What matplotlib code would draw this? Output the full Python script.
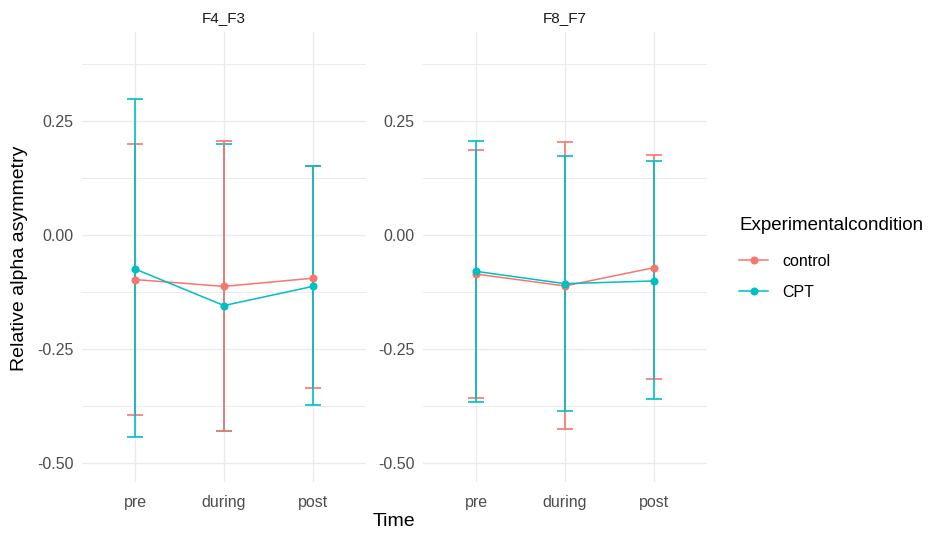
import matplotlib
matplotlib.use("Agg")
import matplotlib.pyplot as plt
from matplotlib.lines import Line2D

plt.rcParams["font.family"] = ["Liberation Sans", "DejaVu Sans"]

# ---------------------------------------------------------------------------
# Data
# ---------------------------------------------------------------------------
TIMES = ["pre", "during", "post"]
PANELS = ["F4_F3", "F8_F7"]
CONDITIONS = ["control", "CPT"]

# F4_F3
F4_CONTROL_MEAN = [-0.098, -0.113, -0.095]
F4_CONTROL_LOW  = [-0.396, -0.431, -0.336]
F4_CONTROL_HIGH = [0.200, 0.207, 0.151]
F4_CPT_MEAN     = [-0.075, -0.155, -0.113]
F4_CPT_LOW      = [-0.444, -0.431, -0.374]
F4_CPT_HIGH     = [0.298, 0.200, 0.151]

# F8_F7
F8_CONTROL_MEAN = [-0.086, -0.112, -0.072]
F8_CONTROL_LOW  = [-0.358, -0.425, -0.316]
F8_CONTROL_HIGH = [0.186, 0.203, 0.175]
F8_CPT_MEAN     = [-0.080, -0.107, -0.101]
F8_CPT_LOW      = [-0.366, -0.387, -0.361]
F8_CPT_HIGH     = [0.206, 0.173, 0.162]

DATA = {
    "F4_F3": {
        "control": (F4_CONTROL_MEAN, F4_CONTROL_LOW, F4_CONTROL_HIGH),
        "CPT": (F4_CPT_MEAN, F4_CPT_LOW, F4_CPT_HIGH),
    },
    "F8_F7": {
        "control": (F8_CONTROL_MEAN, F8_CONTROL_LOW, F8_CONTROL_HIGH),
        "CPT": (F8_CPT_MEAN, F8_CPT_LOW, F8_CPT_HIGH),
    },
}

COLORS = {"control": "#F8766D", "CPT": "#00BFC4"}
# in the reference the control bar sits above CPT's at F4_F3 / during
CONTROL_ON_TOP = {("F4_F3", 1)}

YTICKS = [-0.50, -0.25, 0.00, 0.25]
YMINOR = [-0.375, -0.125, 0.125, 0.375]
# ---------------------------------------------------------------------------

W, H = 933, 533
fig = plt.figure(figsize=(W / 100, H / 100), dpi=100)

panel_left = [82, 423]
panel_w = 284
panel_top, panel_bot = 32, 482

grid_col = "#EBEBEB"
text_col = "#4D4D4D"

for i, name in enumerate(PANELS):
    ax = fig.add_axes([panel_left[i] / W, (H - panel_bot) / H,
                       panel_w / W, (panel_bot - panel_top) / H])
    x = list(range(1, len(TIMES) + 1))

    for cond in CONDITIONS:
        mean, low, high = DATA[name][cond]
        col = COLORS[cond]
        base_z = 3 if cond == "control" else 4
        for j in range(len(x)):
            z = base_z
            if (name, j) in CONTROL_ON_TOP:
                z = 5 if cond == "control" else 3
            ax.errorbar([x[j]], [mean[j]],
                        yerr=[[mean[j] - low[j]], [high[j] - mean[j]]],
                        fmt="none", ecolor=col, elinewidth=1.2,
                        capsize=6, capthick=1.2, zorder=z)
        ax.plot(x, mean, color=col, linewidth=1.1, zorder=6)
        ax.plot(x, mean, "o", color=col, markersize=4.8, zorder=7)

    ax.set_xlim(0.4, 3.6)
    ax.set_ylim(-0.542, 0.445)
    ax.set_xticks(x)
    ax.set_xticklabels(TIMES)
    ax.set_yticks(YTICKS)
    ax.set_yticklabels([f"{v:.2f}" for v in YTICKS])
    ax.set_yticks(YMINOR, minor=True)

    ax.grid(True, which="major", color=grid_col, linewidth=1.0, zorder=0)
    ax.grid(True, which="minor", axis="y", color=grid_col, linewidth=0.7, zorder=0)
    ax.set_axisbelow(True)
    for s in ax.spines.values():
        s.set_visible(False)
    ax.tick_params(which="both", length=0, labelsize=11.5, colors=text_col, pad=6)
    ax.tick_params(axis="x", pad=9)

    ax.set_title(name, fontsize=11, color="#1A1A1A", pad=7)

fig.text(20 / W, 1 - 258 / H, "Relative alpha asymmetry", rotation=90,
         ha="center", va="center", fontsize=14, color="black")
fig.text(394 / W, 1 - 522 / H, "Time", ha="center", va="center",
         fontsize=14, color="black")

handles = [Line2D([0], [0], color=COLORS[c], linewidth=1.1, marker="o",
                  markersize=4.8) for c in CONDITIONS]
leg = fig.legend(handles, CONDITIONS, title="Experimentalcondition",
                 loc="upper left", bbox_to_anchor=(733 / W, 1 - 211 / H),
                 frameon=False, fontsize=11.5, title_fontsize=13.5,
                 handlelength=1.8, handletextpad=0.9, labelspacing=1.0,
                 borderaxespad=0)
leg._legend_box.align = "left"
leg._legend_box.sep = 14

fig.savefig("out.png", dpi=100)
